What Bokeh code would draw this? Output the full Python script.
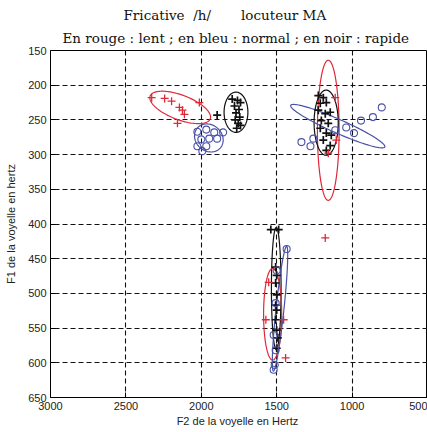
import numpy as np
from bokeh.plotting import figure
from bokeh.models import Range1d, Title, FixedTicker
from bokeh.embed import file_html
from bokeh.resources import INLINE

# ---------------- data (F2, F1 in Hz) ----------------
# slow speech (red)
red_f2 = [2329, 2243, 2197, 2145, 2125, 2112, 2158, 2013,
          1112, 1105, 1158, 1178,
          1553, 1572, 1454, 1441]
red_f1 = [218, 219, 223, 232, 236, 242, 255, 225,
          218, 279, 298, 420,
          484, 538, 538, 593]

# normal speech (blue)
blue_f2 = [2026, 1967, 1914, 1855, 2000, 1947, 1895, 2026, 1967, 1993,
           1336, 1276, 1257, 1112, 1039, 987, 941, 862, 803,
           1434, 1500, 1507, 1520, 1507, 1513, 1520]
blue_f1 = [267, 264, 268, 268, 278, 277, 277, 288, 288, 295,
           282, 288, 277, 265, 261, 269, 251, 246, 232,
           436, 467, 514, 560, 582, 603, 610]

# fast speech (black)
black_f2 = [1895, 1795, 1760, 1740, 1780, 1750, 1770, 1745, 1775, 1755, 1765, 1740,
            1224, 1191, 1211, 1171, 1224, 1178, 1145, 1204, 1158, 1211, 1171, 1138, 1191, 1145, 1171,
            1539, 1487, 1507, 1500, 1507, 1500, 1507, 1500, 1507, 1500, 1493, 1500]
black_f1 = [243, 220, 222, 225, 230, 235, 240, 246, 250, 255, 262, 258,
            215, 218, 226, 225, 236, 241, 239, 251, 255, 262, 269, 272, 279, 287, 294,
            408, 408, 462, 474, 485, 502, 517, 524, 538, 553, 564, 579]

# dispersion ellipses: centre and two conjugate semi-axis vectors (Hz)
ell_color = ["red", "blue", "black", "red", "black", "blue", "black", "red", "blue"]
ell_cx = [2140, 1950, 1770, 1158, 1172, 1095, 1503, 1527, 1478]
ell_cy = [232, 276, 239, 265, 254, 259, 493, 530, 522]
ell_ux = [200, 95, 79, 0, 0, 312, 0, 0, -44]
ell_uy = [-16, -3, 0, 101, 47, -30, 88, 66, -90]
ell_vx = [-24, 0, 0, 72, 80, -19, 32, 60, -26]
ell_vy = [-17, 20, 29, 0, 0, -9, 0, 0, 1]

x_ticks = [3000, 2500, 2000, 1500, 1000, 500]
y_ticks = [150, 200, 250, 300, 350, 400, 450, 500, 550, 600, 650]

title_line1 = "Fricative\u00a0\u00a0/h/\u00a0\u00a0\u00a0\u00a0\u00a0\u00a0\u00a0locuteur MA"
title_line2 = "En rouge : lent ; en bleu : normal ; en noir : rapide"

COL = {"red": "#e02838", "blue": "#4a52a8", "black": "#111111"}

p = figure(width=427, height=432, output_backend="svg", toolbar_location=None,
           x_range=Range1d(3000, 500), y_range=Range1d(650, 150),
           min_border_left=50, min_border_right=0, min_border_top=50, min_border_bottom=35)

p.background_fill_color = "white"
p.border_fill_color = "white"
p.outline_line_color = "black"
p.outline_line_width = 1

for ax in (p.xaxis, p.yaxis):
    ax.major_tick_in = 5
    ax.major_tick_out = 0
    ax.minor_tick_line_color = None
    ax.axis_line_color = "black"
    ax.major_tick_line_color = "black"
    ax.major_label_text_font = "Liberation Sans Narrow, Liberation Sans"
    ax.major_label_text_font_size = "11px"
    ax.major_label_text_color = "#222222"
    ax.axis_label_text_font = "Liberation Sans Narrow, Liberation Sans"
    ax.axis_label_text_font_size = "11px"
    ax.axis_label_text_font_style = "normal"
    ax.axis_label_text_color = "#222222"

p.xaxis.ticker = FixedTicker(ticks=x_ticks)
p.yaxis.ticker = FixedTicker(ticks=y_ticks)
p.xaxis.major_label_standoff = 4
p.yaxis.major_label_standoff = 4
p.xaxis.axis_label = "F2 de la voyelle  en Hertz"
p.yaxis.axis_label = "F1 de la voyelle en hertz"
p.xaxis.axis_label_standoff = 2
p.yaxis.axis_label_standoff = 8

for g in (p.xgrid, p.ygrid):
    g.grid_line_color = "#111111"
    g.grid_line_dash = "5 3"
    g.grid_line_width = 1.1
p.xgrid.ticker = FixedTicker(ticks=x_ticks)
p.ygrid.ticker = FixedTicker(ticks=y_ticks)

# ellipses
t = np.linspace(0, 2 * np.pi, 120)
for c, cx, cy, ux, uy, vx, vy in zip(ell_color, ell_cx, ell_cy, ell_ux, ell_uy, ell_vx, ell_vy):
    xs = cx + ux * np.cos(t) + vx * np.sin(t)
    ys = cy + uy * np.cos(t) + vy * np.sin(t)
    p.line(xs, ys, line_color=COL[c], line_width=1.2)

p.scatter(black_f2, black_f1, marker="cross", size=8, line_width=1.7, line_color=COL["black"])
p.scatter(blue_f2, blue_f1, marker="circle", size=7, line_width=1.1,
          line_color=COL["blue"], fill_color=None)
p.scatter(red_f2, red_f1, marker="cross", size=8, line_width=1.3, line_color=COL["red"])

t2 = Title(text=title_line2, align="left", offset=12,
           text_font="DejaVu Serif", text_font_size="13.5px", text_font_style="normal",
           text_color="#111111", standoff=10)
t1 = Title(text=title_line1, align="left", offset=73,
           text_font="DejaVu Serif", text_font_size="13.5px", text_font_style="normal",
           text_color="#111111", standoff=0)
p.add_layout(t2, "above")
p.add_layout(t1, "above")

open("out.html", "w").write(file_html(p, INLINE))
